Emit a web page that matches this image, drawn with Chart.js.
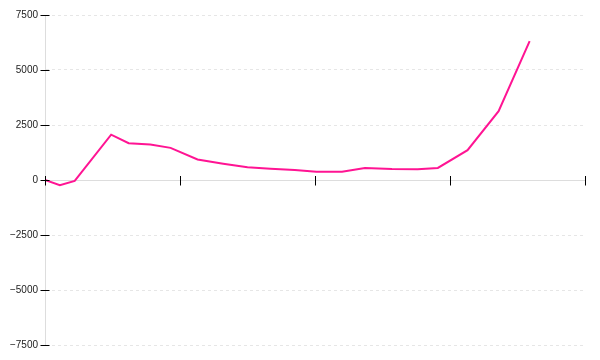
<!DOCTYPE html>
<html>
<head>
<meta charset="utf-8">
<script src="https://cdn.jsdelivr.net/npm/chart.js@4/dist/chart.umd.min.js"></script>
<style>
html,body{margin:0;padding:0;background:#fff;}
#wrap{width:600px;height:360px;position:relative;}
</style>
</head>
<body>
<div id="wrap"><canvas id="c"></canvas></div>
<script>
const xValues = [0, 1.1, 2.2, 4.9, 6.2, 7.8, 9.3, 11.3, 13.2, 15.0, 16.7, 18.5, 20.1, 22.0, 23.7, 25.7, 27.6, 29.1, 31.3, 33.6, 35.9];
const yValues = [0, -240, -40, 2060, 1670, 1610, 1460, 930, 740, 580, 510, 450, 370, 370, 540, 500, 490, 550, 1355, 3130, 6310];
const xTicks = [0, 10, 20, 30, 40];
const yTicks = [-7500, -5000, -2500, 0, 2500, 5000, 7500];

const tickMarks = {
  id: 'tickMarks',
  afterDraw(chart) {
    const ctx = chart.ctx;
    const xs = chart.scales.x, ys = chart.scales.y;
    const y0 = Math.round(ys.getPixelForValue(0)) + 0.5;
    const xAxis = Math.round(chart.chartArea.left) + 0.5;
    ctx.save();
    ctx.strokeStyle = '#000';
    ctx.lineWidth = 1;
    ctx.beginPath();
    xTicks.forEach(v => {
      const px = Math.round(xs.getPixelForValue(v)) + 0.5;
      ctx.moveTo(px, y0 - 4.5);
      ctx.lineTo(px, y0 + 5);
    });
    yTicks.forEach(v => {
      const py = Math.round(ys.getPixelForValue(v)) + 0.5;
      ctx.moveTo(xAxis - 5, py);
      ctx.lineTo(xAxis + 4, py);
    });
    ctx.stroke();
    ctx.restore();
  }
};

new Chart(document.getElementById('c'), {
  type: 'line',
  data: {
    datasets: [{
      data: xValues.map((x, i) => ({x: x, y: yValues[i]})),
      borderColor: '#ff1493',
      borderWidth: 2,
      pointRadius: 0,
      tension: 0,
      fill: false
    }]
  },
  options: {
    responsive: true,
    maintainAspectRatio: false,
    animation: false,
    layout: {padding: {top: 15, right: 15, bottom: 15, left: 0}},
    plugins: {legend: {display: false}, tooltip: {enabled: false}},
    scales: {
      x: {
        type: 'linear',
        position: {y: 0},
        min: 0, max: 40,
        afterBuildTicks: s => { s.ticks = xTicks.map(v => ({value: v})); },
        ticks: {display: false},
        grid: {display: false, drawTicks: false},
        border: {display: true, color: '#dddddd', width: 1}
      },
      y: {
        min: -7500, max: 7500,
        afterBuildTicks: s => { s.ticks = yTicks.map(v => ({value: v})); },
        afterFit: s => { s.width = 45; },
        ticks: {
          padding: 7,
          color: '#222',
          font: {family: 'Liberation Sans', size: 10},
          callback: v => (v < 0 ? '\u2212' + Math.abs(v) : String(v))
        },
        grid: {color: '#e6e6e6', drawTicks: false, lineWidth: 1},
        border: {display: true, color: '#dddddd', width: 1, dash: [3, 3]}
      }
    }
  },
  plugins: [tickMarks]
});
</script>
</body>
</html>
